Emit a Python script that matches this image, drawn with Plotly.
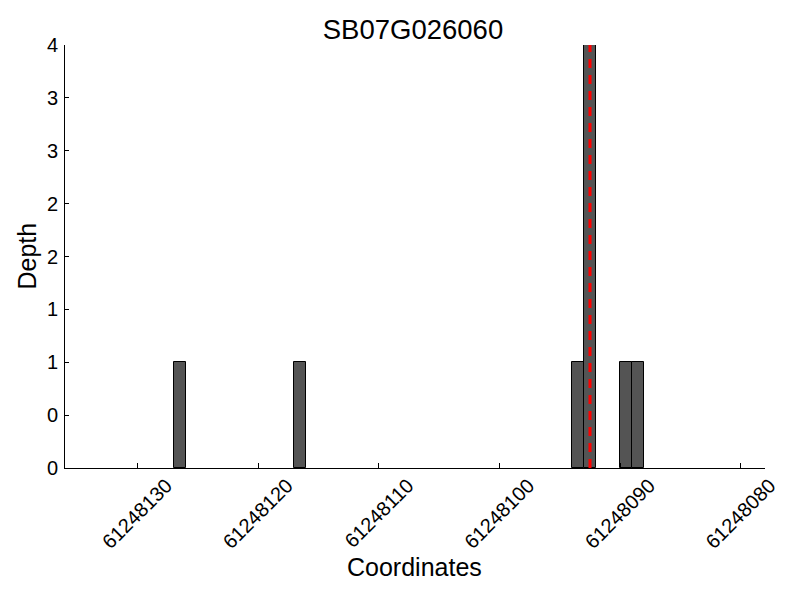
import plotly.graph_objects as go

title = "SB07G026060"
x_title = "Coordinates"
y_title = "Depth"
positions = [61248126, 61248116, 61248093, 61248092, 61248089, 61248088]
depths = [1, 1, 1, 4, 1, 1]
snp_position = 61248092
x_ticks = [61248130, 61248120, 61248110, 61248100, 61248090, 61248080]
y_ticks = [0, 0.5, 1, 1.5, 2, 2.5, 3, 3.5, 4]
y_tick_labels = [str(int(v)) for v in y_ticks]

FONT = "Liberation Sans, Arial, Helvetica, sans-serif"

fig = go.Figure()
fig.add_trace(go.Bar(
    x=positions, y=depths, offset=0, width=1,
    marker=dict(color="#545454", line=dict(color="black", width=1)),
    showlegend=False,
))
fig.add_trace(go.Scatter(
    x=[snp_position + 0.5, snp_position + 0.5], y=[0, max(depths)],
    mode="lines", line=dict(color="red", width=3, dash="9px,7px"),
    showlegend=False,
))

# page body has an 8px margin, so the figure is 792x592 and offset by 8px
fig.update_layout(
    width=792, height=592,
    margin=dict(l=57, r=35, t=37, b=132, autoexpand=False),
    paper_bgcolor="white", plot_bgcolor="white",
    font=dict(family=FONT, color="black"),
    title=dict(text=title, x=(413 - 8) / 792, xanchor="center",
               y=1 - 21 / 592, yanchor="middle", font=dict(size=27.5)),
    bargap=0,
    annotations=[
        dict(text=x_title, xref="paper", yref="paper", x=0.4986, y=-0.234,
             xanchor="center", yanchor="middle", showarrow=False,
             font=dict(size=25)),
        dict(text=y_title, xref="paper", yref="paper", x=-0.0557, y=0.5,
             xanchor="center", yanchor="middle", showarrow=False,
             textangle=-90, font=dict(size=25)),
    ],
)
fig.update_xaxes(
    range=[61248136, 61248078], tickvals=x_ticks,
    ticktext=[str(v) for v in x_ticks], tickangle=-45,
    ticklabelshift=-29, ticklabelstandoff=-3,
    ticks="inside", ticklen=5, tickcolor="black",
    showline=True, linecolor="black", linewidth=1,
    showgrid=False, zeroline=False, automargin=False,
    tickfont=dict(size=20),
)
fig.update_yaxes(
    range=[0, 4], tickvals=y_ticks, ticktext=y_tick_labels,
    ticks="inside", ticklen=4, tickcolor="black",
    showline=True, linecolor="black", linewidth=1,
    showgrid=False, zeroline=False, automargin=False,
    tickfont=dict(size=20), ticklabelstandoff=2,
)
fig.write_html("out.html")
